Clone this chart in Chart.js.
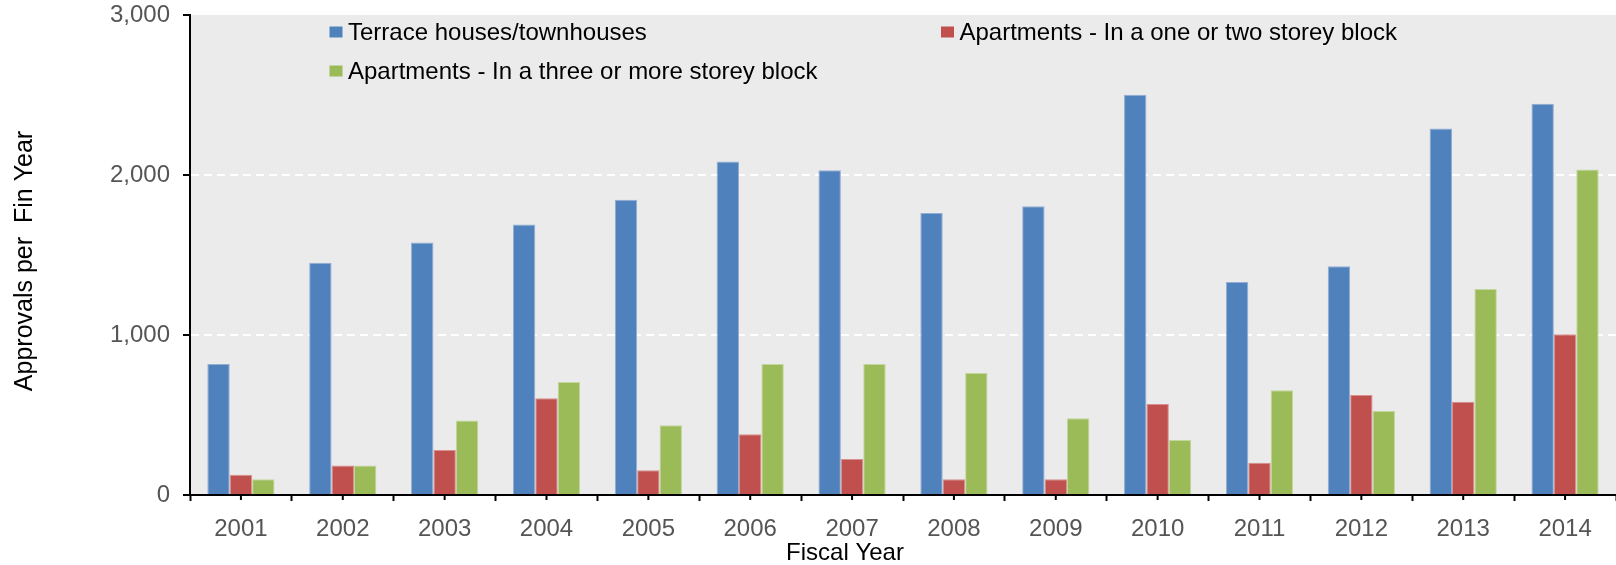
<!DOCTYPE html>
<html>
<head>
<meta charset="utf-8">
<script src="https://cdn.jsdelivr.net/npm/chart.js@4/dist/chart.umd.min.js"></script>
<style>
  html, body { margin: 0; padding: 0; background: #fff; }
  canvas { display: block; }
</style>
</head>
<body>
<canvas id="barChart" width="1616" height="565"></canvas>
<script>
// values
var years = ["2001", "2002", "2003", "2004", "2005", "2006", "2007", "2008", "2009", "2010", "2011", "2012", "2013", "2014"];
var terrace = [818, 1451, 1578, 1691, 1846, 2085, 2029, 1762, 1804, 2502, 1331, 1429, 2290, 2445];
var aptLow = [127, 184, 282, 605, 154, 380, 225, 98, 98, 568, 201, 625, 583, 1005];
var aptHigh = [98, 184, 466, 706, 436, 818, 818, 762, 480, 343, 654, 525, 1287, 2035];
var yTicks = [0, 1000, 2000, 3000];

var FONT = "'Liberation Sans', Arial, sans-serif";

// grey plot background
var plotBg = {
    id: "plotBg",
    beforeDraw: function (chart) {
        var a = chart.chartArea, ctx = chart.ctx;
        ctx.save();
        ctx.fillStyle = "#ebebeb";
        ctx.fillRect(a.left, a.top, a.right - a.left, a.bottom - a.top);
        ctx.restore();
    }
};

// short ticks under each category centre
var centreTicks = {
    id: "centreTicks",
    afterDraw: function (chart) {
        var xs = chart.scales.x, ctx = chart.ctx;
        ctx.save();
        ctx.strokeStyle = "#000";
        ctx.lineWidth = 2;
        ctx.beginPath();
        for (var i = 0; i < xs.ticks.length; i++) {
            var px = xs.getPixelForTick(i);
            ctx.moveTo(px, xs.top);
            ctx.lineTo(px, xs.top + 5);
        }
        ctx.stroke();
        ctx.restore();
    }
};

// legend inside the plot, two columns like the original
var insideLegend = {
    id: "insideLegend",
    afterDraw: function (chart, args, opts) {
        var ctx = chart.ctx;
        ctx.save();
        ctx.font = "24px " + FONT;
        ctx.textBaseline = "middle";
        chart.data.datasets.forEach(function (ds, i) {
            var p = opts.spots[i];
            ctx.fillStyle = ds.backgroundColor;
            ctx.fillRect(p.x, p.y - 5.5, 13, 11);
            ctx.fillStyle = "#000";
            ctx.fillText(ds.label, p.x + 18.5, p.y + 1);
        });
        ctx.restore();
    }
};

// axis titles
var axisTitles = {
    id: "axisTitles",
    afterDraw: function (chart) {
        var ctx = chart.ctx;
        ctx.save();
        ctx.fillStyle = "#000";
        ctx.font = "24px " + FONT;
        ctx.textAlign = "center";
        ctx.textBaseline = "middle";
        ctx.fillText("Fiscal Year", 845, 553);
        ctx.font = "25px " + FONT;
        ctx.translate(25, 261);
        ctx.rotate(-Math.PI / 2);
        ctx.fillText("Approvals per  Fin Year", 0, 0);
        ctx.restore();
    }
};

document.addEventListener("DOMContentLoaded", function () {
    var ctx = document.getElementById("barChart").getContext("2d");
    var barChart = new Chart(ctx, {
        type: "bar",
        data: {
            labels: years,
            datasets: [
                {
                    label: "Terrace houses/townhouses",
                    data: terrace,
                    backgroundColor: "#4f81bd",
                    borderColor: "#93aed4",
                    borderWidth: 1
                },
                {
                    label: "Apartments - In a one or two storey block",
                    data: aptLow,
                    backgroundColor: "#c0504d",
                    borderColor: "#d7908e",
                    borderWidth: 1
                },
                {
                    label: "Apartments - In a three or more storey block",
                    data: aptHigh,
                    backgroundColor: "#9bbb59",
                    borderColor: "#c3d69b",
                    borderWidth: 1
                }
            ]
        },
        options: {
            responsive: false,
            animation: false,
            categoryPercentage: 0.66,
            barPercentage: 1.0,
            layout: { padding: { top: 15, right: -4, left: 0, bottom: 0 } },
            plugins: {
                legend: { display: false },
                tooltip: { enabled: false },
                insideLegend: {
                    spots: [{ x: 329.5, y: 32 }, { x: 941, y: 32 }, { x: 329.5, y: 71 }]
                }
            },
            scales: {
                x: {
                    offset: true,
                    grid: {
                        offset: true,
                        drawOnChartArea: false,
                        tickLength: 6,
                        tickColor: "#000",
                        tickWidth: 2
                    },
                    border: { display: true, color: "#000", width: 2 },
                    ticks: {
                        color: "#555",
                        padding: 14,
                        font: { family: FONT, size: 24 }
                    },
                    afterFit: function (s) {
                        s.height = 70;
                        s.paddingLeft = 0;
                        s.paddingRight = 0;
                    }
                },
                y: {
                    min: 0,
                    max: 3000,
                    afterBuildTicks: function (s) {
                        s.ticks = yTicks.map(function (v) { return { value: v }; });
                    },
                    grid: {
                        color: function (c) {
                            var v = c.tick ? c.tick.value : 0;
                            return (v > 0 && v < 3000) ? "#ffffff" : "rgba(0,0,0,0)";
                        },
                        lineWidth: 2,
                        tickLength: 7,
                        tickColor: "#000",
                        tickWidth: 2,
                        tickBorderDash: []
                    },
                    border: { display: true, color: "#000", width: 2, dash: [8, 5] },
                    ticks: {
                        color: "#555",
                        padding: 13,
                        font: { family: FONT, size: 24 },
                        callback: function (v) { return Number(v).toLocaleString("en-US"); }
                    },
                    afterFit: function (s) {
                        s.width = 190;
                        s.paddingTop = 0;
                        s.paddingBottom = 0;
                    }
                }
            }
        },
        plugins: [plotBg, centreTicks, insideLegend, axisTitles]
    });
});
</script>
</body>
</html>
